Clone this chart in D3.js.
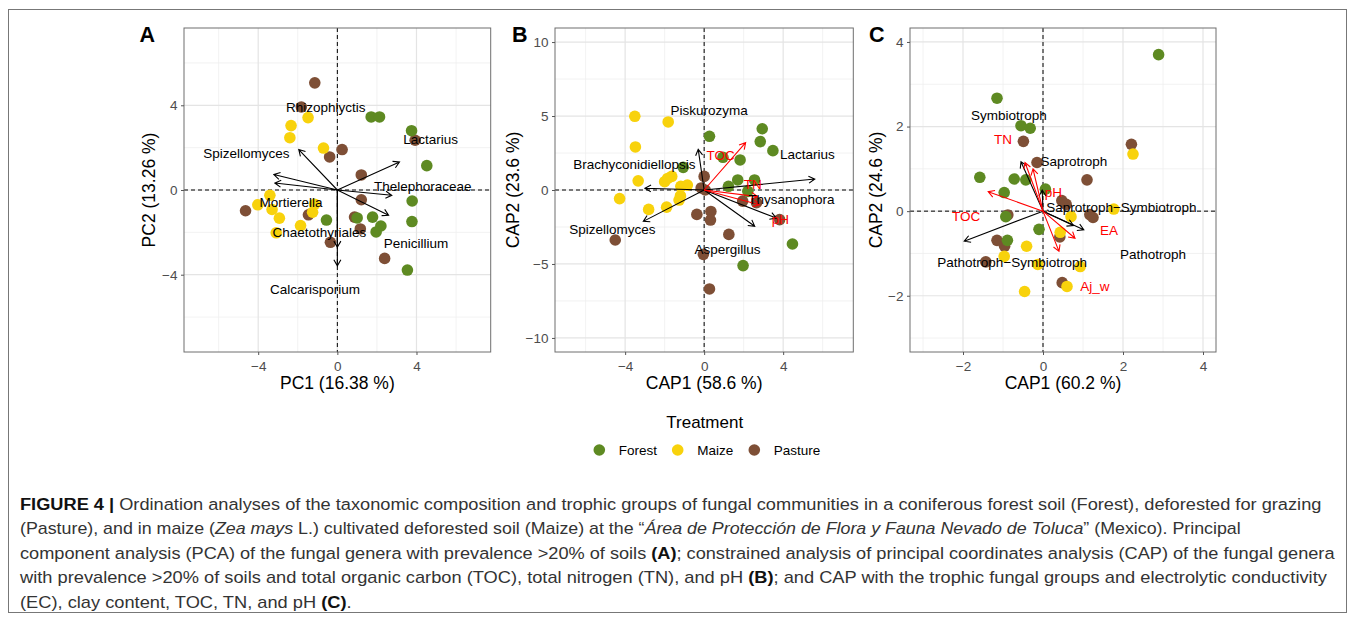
<!DOCTYPE html>
<html>
<head>
<meta charset="utf-8">
<script src="https://cdn.jsdelivr.net/npm/d3@7"></script>
<style>
body { margin: 0; background: #fff; }
svg text { font-family: "Liberation Sans", Arial, Helvetica, sans-serif; }
</style>
</head>
<body>
<svg id="fig" width="1355" height="621"></svg>
<script>
// treatments
const treatments = ["Forest", "Maize", "Pasture"];
const treatColors = ["#5e8a22", "#f8d20c", "#7e4f36"];

// panel A - PCA scores
const pcaForest = [[1.71,3.45],[2.13,3.45],[3.75,2.80],[4.52,1.15],[3.78,-0.52],[3.77,-1.49],[-0.55,-1.42],[1.0,-1.32],[1.78,-1.28],[2.2,-1.7],[1.96,-1.98],[3.54,-3.78]];
const pcaMaize = [[-2.34,3.04],[-1.48,3.42],[-2.40,2.47],[-0.70,1.98],[-3.41,-0.25],[-4.02,-0.70],[-3.30,-0.92],[-2.93,-1.33],[-1.86,-1.68],[-3.09,-2.02],[-1.15,-0.67],[-1.25,-1.05]];
const pcaPasture = [[-1.14,5.06],[-1.82,3.92],[0.24,1.91],[-0.39,1.56],[1.21,0.71],[1.21,-0.46],[-4.64,-0.98],[-1.46,-1.17],[0.87,-1.28],[1.16,-1.84],[-0.35,-2.47],[2.39,-3.23],[3.93,2.35]];
const pcaArrows = [[-1.95,1.91],[3.14,1.32],[-3.21,0.73],[-3.16,0.33],[2.75,-0.25],[2.59,-1.19],[0,-2.7],[0,-3.58]];
const pcaGenera = ["Rhizophlyctis","Spizellomyces","Lactarius","Thelephoraceae","Mortierella","Chaetothyriales","Penicillium","Calcarisporium"];
const pcaGeneraX = [-0.59,-4.6,4.71,4.32,-2.34,-0.91,3.98,-1.13];
const pcaGeneraY = [3.92,1.75,2.38,0.17,-0.58,-1.98,-2.5,-4.68];

// panel B - CAP genera
const capGForest = [[0.27,3.63],[2.94,4.14],[2.84,3.27],[3.48,2.66],[0.95,2.21],[1.82,2.03],[-1.06,1.53],[1.70,0.68],[2.55,0.68],[1.23,0.25],[2.21,-0.09],[4.47,-3.65],[1.97,-5.11]];
const capGMaize = [[-3.51,4.98],[-1.82,4.6],[-3.48,2.91],[-3.34,0.62],[-4.28,-0.58],[-2.81,-1.31],[-1.9,-1.16],[-2.0,0.56],[-1.64,0.92],[-1.85,0.78],[-1.18,0.25],[-0.85,0.33],[-1.2,-0.4],[-1.27,-0.68]];
const capGPasture = [[0,0.92],[-0.15,0.14],[0.05,0.0],[0.34,-1.45],[-0.37,-1.65],[0.32,-2.03],[1.25,-3.0],[-4.5,-3.38],[-0.04,-4.35],[0.27,-6.69],[1.95,-0.75],[2.65,-0.86],[3.82,-2.0]];
const capGArrows = [[-0.3,2.75],[-3.0,0.12],[-3.08,-2.12],[5.6,0.74],[2.56,-2.45],[3.65,-1.9]];
const capGGenera = ["Piskurozyma","Brachyconidiellopsis","Lactarius","Thysanophora","Spizellomyces","Aspergillus"];
const capGGeneraX = [0.25,-3.53,5.22,4.42,-4.64,1.18];
const capGGeneraY = [5.38,1.71,2.43,-0.65,-2.64,-4.03];
const capGEnvArrows = [[2.1,3.2],[2.7,-0.45],[2.8,-1.0]];
const capGEnv = ["TOC","TN","pH"];
const capGEnvX = [0.83,2.46,3.86];
const capGEnvY = [2.32,0.41,-2.0];

// panel C - CAP trophic groups
const capTForest = [[2.89,3.70],[-1.15,2.67],[-0.55,2.02],[-0.32,1.96],[-1.58,0.80],[-0.72,0.76],[-0.43,0.74],[0.06,0.52],[-0.97,0.44],[-0.93,-0.13],[-0.10,-0.43],[-0.89,-0.69]];
const capTMaize = [[2.25,1.35],[1.77,0.05],[0.70,-0.13],[0.43,-0.5],[-0.41,-0.83],[-0.97,-1.07],[-0.13,-1.26],[0.93,-1.31],[0.60,-1.78],[-0.46,-1.90]];
const capTPasture = [[2.21,1.58],[-0.49,1.65],[-0.15,1.15],[1.10,0.74],[0.47,0.25],[0.58,0.16],[1.17,-0.08],[1.25,-0.15],[-0.88,-0.09],[-1.15,-0.69],[-0.96,-0.83],[-1.43,-1.20],[0.42,-0.61],[0.48,-1.69]];
const capTArrows = [[-0.55,1.17],[-1.97,-0.71],[-0.02,0.5],[0.76,-0.34],[1.02,-0.44]];
const capTGroups = ["Symbiotroph","Saprotroph","Saprotroph\u2212Symbiotroph","Pathotroph","Pathotroph\u2212Symbiotroph"];
const capTGroupsX = [-0.85,0.77,1.96,2.75,-0.77];
const capTGroupsY = [2.26,1.17,0.09,-1.01,-1.2];
const capTEnvArrows = [[-1.37,0.46],[-0.45,1.15],[-0.25,1.0],[0.8,-0.64],[0.4,-0.95]];
const capTEnv = ["TOC","TN","pH","EA","Aj_w"];
const capTEnvX = [-1.92,-1.0,0.26,1.65,1.3];
const capTEnvY = [-0.13,1.69,0.45,-0.46,-1.78];

// caption lines, [text, style]
const captionLines = [
  [["FIGURE 4 | ", "b"], ["Ordination analyses of the taxonomic composition and trophic groups of fungal communities in a coniferous forest soil (Forest), deforested for grazing", ""]],
  [["(Pasture), and in maize (", ""], ["Zea mays", "i"], [" L.) cultivated deforested soil (Maize) at the \u201c", ""], ["\u00c1rea de Protecci\u00f3n de Flora y Fauna Nevado de Toluca", "i"], ["\u201d (Mexico). Principal", ""]],
  [["component analysis (PCA) of the fungal genera with prevalence >20% of soils ", ""], ["(A)", "b"], ["; constrained analysis of principal coordinates analysis (CAP) of the fungal genera", ""]],
  [["with prevalence >20% of soils and total organic carbon (TOC), total nitrogen (TN), and pH ", ""], ["(B)", "b"], ["; and CAP with the trophic fungal groups and electrolytic conductivity", ""]],
  [["(EC), clay content, TOC, TN, and pH ", ""], ["(C)", "b"], [".", ""]]
];
const captionWidths = [1302, 1221, 1316, 1308, 332];

const svg = d3.select("#fig");

// outer frame
svg.append("rect")
  .attr("x", 8.5).attr("y", 9.5)
  .attr("width", 1338).attr("height", 603)
  .attr("fill", "none").attr("stroke", "#777").attr("stroke-width", 1);

function arrowPath(x0, y0, x1, y1) {
  const len = 7, ang = Math.PI / 6;
  const th = Math.atan2(y1 - y0, x1 - x0);
  const ax = x1 - len * Math.cos(th - ang), ay = y1 - len * Math.sin(th - ang);
  const bx = x1 - len * Math.cos(th + ang), by = y1 - len * Math.sin(th + ang);
  return `M${x0},${y0}L${x1},${y1}M${ax},${ay}L${x1},${y1}L${bx},${by}`;
}

function drawPanel(p) {
  const x = d3.scaleLinear().domain(p.xDomain).range([p.left, p.right]);
  const y = d3.scaleLinear().domain(p.yDomain).range([p.bottom, p.top]);
  const g = svg.append("g");

  // grid
  g.selectAll(null).data(p.xMinor).join("line")
    .attr("x1", d => x(d)).attr("x2", d => x(d))
    .attr("y1", p.top).attr("y2", p.bottom)
    .attr("stroke", "#efefef").attr("stroke-width", 0.8);
  g.selectAll(null).data(p.yMinor).join("line")
    .attr("y1", d => y(d)).attr("y2", d => y(d))
    .attr("x1", p.left).attr("x2", p.right)
    .attr("stroke", "#efefef").attr("stroke-width", 0.8);
  g.selectAll(null).data(p.xTicks).join("line")
    .attr("x1", d => x(d)).attr("x2", d => x(d))
    .attr("y1", p.top).attr("y2", p.bottom)
    .attr("stroke", "#e4e4e4").attr("stroke-width", 1.2);
  g.selectAll(null).data(p.yTicks).join("line")
    .attr("y1", d => y(d)).attr("y2", d => y(d))
    .attr("x1", p.left).attr("x2", p.right)
    .attr("stroke", "#e4e4e4").attr("stroke-width", 1.2);

  // zero lines
  g.append("line")
    .attr("x1", p.left).attr("x2", p.right).attr("y1", y(0)).attr("y2", y(0))
    .attr("stroke", "#000").attr("stroke-width", 1).attr("stroke-dasharray", "4,3");
  g.append("line")
    .attr("x1", x(0)).attr("x2", x(0)).attr("y1", p.top).attr("y2", p.bottom)
    .attr("stroke", "#000").attr("stroke-width", 1).attr("stroke-dasharray", "4,3");

  // points: pasture, forest, maize
  [[p.pasture, 2], [p.forest, 0], [p.maize, 1]].forEach(([pts, i]) => {
    g.selectAll(null).data(pts).join("circle")
      .attr("cx", d => x(d[0])).attr("cy", d => y(d[1]))
      .attr("r", 5.8).attr("fill", treatColors[i]);
  });

  // arrows
  g.selectAll(null).data(p.arrows).join("path")
    .attr("d", d => arrowPath(x(0), y(0), x(d[0]), y(d[1])))
    .attr("fill", "none").attr("stroke", "#000").attr("stroke-width", 1.1);
  if (p.envArrows) {
    g.selectAll(null).data(p.envArrows).join("path")
      .attr("d", d => arrowPath(x(0), y(0), x(d[0]), y(d[1])))
      .attr("fill", "none").attr("stroke", "#ff0000").attr("stroke-width", 1.1);
  }

  // labels
  g.selectAll(null).data(p.labels).join("text")
    .attr("x", (d, i) => x(p.labelsX[i])).attr("y", (d, i) => y(p.labelsY[i]))
    .attr("dy", "0.35em").attr("text-anchor", "middle")
    .attr("font-size", 13.5).attr("fill", "#000")
    .text(d => d);
  if (p.env) {
    g.selectAll(null).data(p.env).join("text")
      .attr("x", (d, i) => x(p.envX[i])).attr("y", (d, i) => y(p.envY[i]))
      .attr("dy", "0.35em").attr("text-anchor", "middle")
      .attr("font-size", 13.5).attr("fill", "#ff0000")
      .text(d => d);
  }

  // border
  g.append("rect")
    .attr("x", p.left).attr("y", p.top)
    .attr("width", p.right - p.left).attr("height", p.bottom - p.top)
    .attr("fill", "none").attr("stroke", "#6e6e6e").attr("stroke-width", 1);

  // axes
  const ax = g.append("g").attr("transform", `translate(0,${p.bottom})`)
    .call(d3.axisBottom(x).tickValues(p.xTicks).tickSize(3).tickPadding(6));
  const ay = g.append("g").attr("transform", `translate(${p.left},0)`)
    .call(d3.axisLeft(y).tickValues(p.yTicks).tickSize(3).tickPadding(3.5));
  [ax, ay].forEach(a => {
    a.select(".domain").remove();
    a.selectAll(".tick line").attr("stroke", "#555");
    a.selectAll(".tick text").attr("fill", "#4d4d4d")
      .attr("font-size", 13.5).attr("font-family", "Liberation Sans, Arial, sans-serif");
  });

  // titles
  g.append("text")
    .attr("x", (p.left + p.right) / 2).attr("y", 389)
    .attr("text-anchor", "middle").attr("font-size", 17.5).attr("fill", "#000")
    .text(p.xTitle);
  g.append("text")
    .attr("transform", `translate(${p.yTitleX},${(p.top + p.bottom) / 2}) rotate(-90)`)
    .attr("dy", "0.35em")
    .attr("text-anchor", "middle").attr("font-size", 17.5).attr("fill", "#000")
    .text(p.yTitle);
  g.append("text")
    .attr("x", p.letterX).attr("y", 42)
    .attr("font-size", 21.5).attr("font-weight", "bold").attr("fill", "#000")
    .text(p.letter);
}

drawPanel({
  letter: "A", letterX: 139.5, yTitleX: 149,
  left: 184, right: 490.7, top: 28, bottom: 352,
  xDomain: [-7.75, 7.75], yDomain: [-7.65, 7.65],
  xTicks: [-4, 0, 4], yTicks: [-4, 0, 4],
  xMinor: [-6, -2, 2, 6], yMinor: [-6, -2, 2, 6],
  forest: pcaForest, maize: pcaMaize, pasture: pcaPasture,
  arrows: pcaArrows,
  labels: pcaGenera, labelsX: pcaGeneraX, labelsY: pcaGeneraY,
  xTitle: "PC1 (16.38 %)", yTitle: "PC2 (13.26 %)"
});

drawPanel({
  letter: "B", letterX: 512, yTitleX: 513,
  left: 555, right: 853.3, top: 28, bottom: 352,
  xDomain: [-7.55, 7.55], yDomain: [-10.95, 10.95],
  xTicks: [-4, 0, 4], yTicks: [-10, -5, 0, 5, 10],
  xMinor: [-6, -2, 2, 6], yMinor: [-7.5, -2.5, 2.5, 7.5],
  forest: capGForest, maize: capGMaize, pasture: capGPasture,
  arrows: capGArrows, envArrows: capGEnvArrows,
  labels: capGGenera, labelsX: capGGeneraX, labelsY: capGGeneraY,
  env: capGEnv, envX: capGEnvX, envY: capGEnvY,
  xTitle: "CAP1 (58.6 %)", yTitle: "CAP2 (23.6 %)"
});

drawPanel({
  letter: "C", letterX: 869, yTitleX: 875.5,
  left: 910, right: 1216, top: 28, bottom: 352,
  xDomain: [-3.325, 4.325], yDomain: [-3.33, 4.33],
  xTicks: [-2, 0, 2, 4], yTicks: [-2, 0, 2, 4],
  xMinor: [-3, -1, 1, 3], yMinor: [-3, -1, 1, 3],
  forest: capTForest, maize: capTMaize, pasture: capTPasture,
  arrows: capTArrows, envArrows: capTEnvArrows,
  labels: capTGroups, labelsX: capTGroupsX, labelsY: capTGroupsY,
  env: capTEnv, envX: capTEnvX, envY: capTEnvY,
  xTitle: "CAP1 (60.2 %)", yTitle: "CAP2 (24.6 %)"
});

// legend
const legend = svg.append("g");
legend.append("text")
  .attr("x", 704.7).attr("y", 428)
  .attr("text-anchor", "middle").attr("font-size", 17).attr("fill", "#000")
  .text("Treatment");
const legendX = [599.3, 677.7, 754.3];
treatments.forEach((t, i) => {
  legend.append("circle")
    .attr("cx", legendX[i]).attr("cy", 450).attr("r", 5.8)
    .attr("fill", treatColors[i]);
  legend.append("text")
    .attr("x", legendX[i] + 19.5).attr("y", 454.8)
    .attr("font-size", 13.5).attr("fill", "#000")
    .text(t);
});

// caption
const capY = [509.5, 534, 558.5, 583, 607.5];
captionLines.forEach((line, i) => {
  const t = svg.append("text")
    .attr("x", 0).attr("y", 0)
    .attr("font-size", 17).attr("fill", "#333");
  line.forEach(([s, st]) => {
    const sp = t.append("tspan").text(s);
    if (st === "b") sp.attr("font-weight", "bold").attr("fill", "#111");
    if (st === "i") sp.attr("font-style", "italic");
  });
  const w = t.node().getComputedTextLength();
  const sx = captionWidths[i] / w;
  t.attr("transform", `translate(20,${capY[i]}) scale(${sx},1)`);
});
</script>
</body>
</html>
